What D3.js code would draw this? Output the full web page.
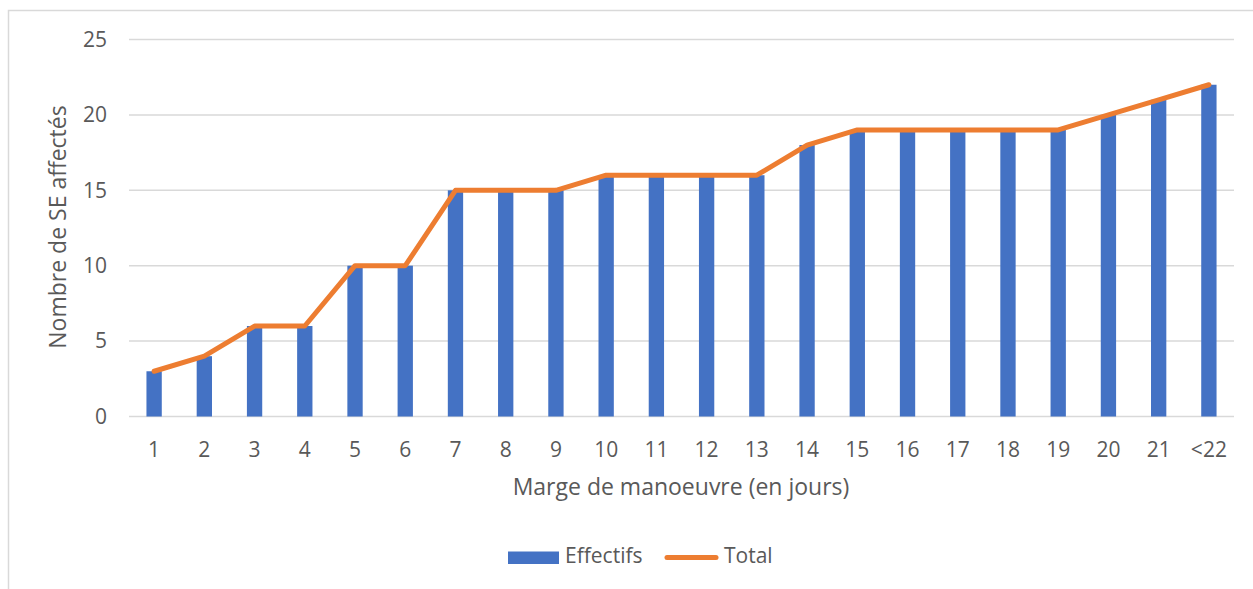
<!DOCTYPE html>
<html>
<head>
<meta charset="utf-8">
<script src="https://cdn.jsdelivr.net/npm/d3@7"></script>
<style>
  html, body { margin: 0; padding: 0; background: #fff; }
  svg { display: block; font-family: "Open Sans", "Noto Sans", sans-serif; }
</style>
</head>
<body>
<svg id="chart" width="1253" height="589"></svg>
<script>
// Categories: manoeuvre margin in days
const categories = ["1","2","3","4","5","6","7","8","9","10","11","12","13","14","15","16","17","18","19","20","21","<22"];
// Number of affected SE per margin (bars)
const effectifs = [3,4,6,6,10,10,15,15,15,16,16,16,16,18,19,19,19,19,19,20,21,22];
// Cumulative total (line)
const total = [3,4,6,6,10,10,15,15,15,16,16,16,16,18,19,19,19,19,19,20,21,22];
const yTicks = [0,5,10,15,20,25];

const svg = d3.select("#chart");
const plot = { left: 129, right: 1234, top: 39.5, bottom: 416.5 };
const textColor = "#595959";

// Chart frame
svg.append("rect")
  .attr("x", 8.5).attr("y", 10.5)
  .attr("width", 1270).attr("height", 620)
  .attr("fill", "#fff").attr("stroke", "#d9d9d9").attr("stroke-width", 1.5);

const xc = d3.scaleBand().domain(categories).range([plot.left, plot.right]);
const y = d3.scaleLinear().domain([0, 25]).range([plot.bottom, plot.top]);
const barW = xc.bandwidth() * 0.305;

// Horizontal gridlines
svg.append("g")
  .selectAll("line").data(yTicks).join("line")
  .attr("x1", plot.left).attr("x2", plot.right)
  .attr("y1", d => y(d)).attr("y2", d => y(d))
  .attr("stroke", "#d9d9d9").attr("stroke-width", 1.5);

// Y axis tick labels
const yAxis = d3.axisLeft(y).tickValues(yTicks).tickSize(0).tickPadding(0);
const gy = svg.append("g").attr("transform", `translate(${plot.left - 22},0)`).call(yAxis);
gy.select(".domain").remove();
gy.selectAll("text").attr("fill", textColor).style("font-size", "21px")
  .style("font-family", "'Open Sans', 'Noto Sans', sans-serif");

// Bars
svg.append("g")
  .selectAll("rect").data(effectifs).join("rect")
  .attr("x", (d, i) => xc(categories[i]) + (xc.bandwidth() - barW) / 2)
  .attr("width", barW)
  .attr("y", d => y(d))
  .attr("height", d => y(0) - y(d))
  .attr("fill", "#4472C4");

// X axis tick labels
const xAxis = d3.axisBottom(xc).tickSize(0).tickPadding(0);
const gx = svg.append("g").attr("transform", `translate(0,${plot.bottom + 33})`).call(xAxis);
gx.select(".domain").remove();
gx.selectAll("text").attr("fill", textColor).style("font-size", "21px")
  .style("font-family", "'Open Sans', 'Noto Sans', sans-serif")
  .attr("dy", "0.35em");

// Total line
const line = d3.line()
  .x((d, i) => xc(categories[i]) + xc.bandwidth() / 2)
  .y(d => y(d));
svg.append("path")
  .datum(total)
  .attr("d", line)
  .attr("fill", "none")
  .attr("stroke", "#ED7D31")
  .attr("stroke-width", 5)
  .attr("stroke-linejoin", "round")
  .attr("stroke-linecap", "round");

// Axis titles
svg.append("text")
  .attr("x", 681).attr("y", 489)
  .attr("text-anchor", "middle").attr("dominant-baseline", "middle")
  .attr("fill", textColor).style("font-size", "23px")
  .text("Marge de manoeuvre (en jours)");

svg.append("text")
  .attr("transform", `translate(60,${(plot.top + plot.bottom) / 2 - 1}) rotate(-90)`)
  .attr("text-anchor", "middle").attr("dominant-baseline", "middle")
  .attr("fill", textColor).style("font-size", "23px")
  .text("Nombre de SE affectés");

// Legend
const legend = svg.append("g");
legend.append("rect").attr("x", 508).attr("y", 551.5).attr("width", 51).attr("height", 12.5).attr("fill", "#4472C4");
legend.append("text").attr("x", 565).attr("y", 557.5).attr("dominant-baseline", "middle")
  .attr("fill", textColor).style("font-size", "21px").text("Effectifs");
legend.append("line").attr("x1", 667).attr("x2", 716).attr("y1", 557.5).attr("y2", 557.5)
  .attr("stroke", "#ED7D31").attr("stroke-width", 5).attr("stroke-linecap", "round");
legend.append("text").attr("x", 724).attr("y", 557.5).attr("dominant-baseline", "middle")
  .attr("fill", textColor).style("font-size", "21px").text("Total");
</script>
</body>
</html>
